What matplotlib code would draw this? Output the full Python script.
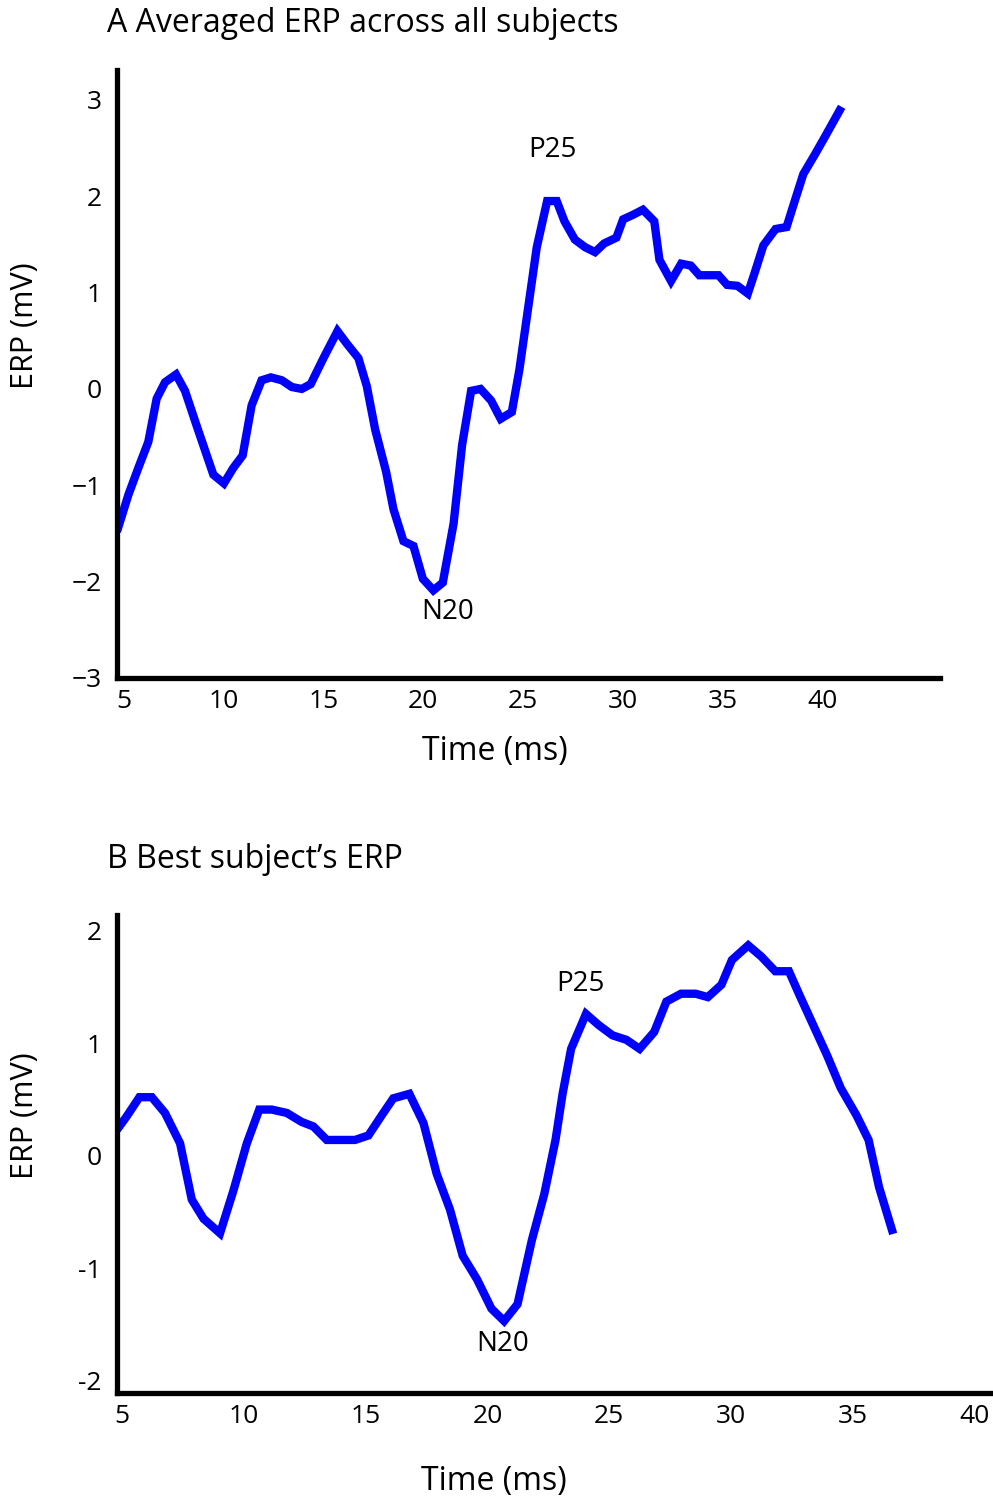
import matplotlib
matplotlib.use("Agg")
import matplotlib.pyplot as plt

# Panel A: averaged ERP across all subjects
time_a = [4.71, 5.22, 5.72, 6.22, 6.64, 7.06, 7.61, 8.06, 8.64, 9.48, 10.01,
          10.48, 10.95, 11.40, 11.90, 12.36, 12.91, 13.41, 13.91, 14.36, 15.00,
          15.70, 16.17, 16.75, 17.17, 17.59, 18.14, 18.51, 19.01, 19.51, 19.98,
          20.51, 20.98, 21.52, 21.95, 22.40, 22.87, 23.40, 23.88, 24.44, 24.82,
          25.34, 25.69, 26.21, 26.69, 27.08, 27.60, 28.12, 28.61, 29.07, 29.68,
          30.02, 30.54, 31.01, 31.58, 31.84, 32.42, 32.93, 33.41, 33.84, 34.80,
          35.23, 35.75, 36.27, 36.62, 37.05, 37.66, 38.21, 38.62, 39.05, 39.65,
          40.17, 40.87]
erp_a = [-1.44, -1.10, -0.82, -0.55, -0.10, 0.07, 0.15, -0.02, -0.38, -0.89, -0.98,
         -0.82, -0.69, -0.17, 0.09, 0.12, 0.09, 0.02, 0.00, 0.05, 0.32,
         0.60, 0.47, 0.32, 0.03, -0.42, -0.86, -1.25, -1.58, -1.63, -1.97,
         -2.09, -2.01, -1.40, -0.58, -0.02, 0.00, -0.12, -0.31, -0.24, 0.20,
         0.96, 1.47, 1.95, 1.95, 1.74, 1.55, 1.47, 1.42, 1.51, 1.57,
         1.76, 1.81, 1.86, 1.74, 1.34, 1.12, 1.30, 1.28, 1.18, 1.18,
         1.08, 1.07, 0.99, 1.21, 1.49, 1.66, 1.68, 1.95, 2.23, 2.44,
         2.63, 2.89]

# Panel B: best subject's ERP
time_b = [4.89, 5.19, 5.71, 6.22, 6.76, 7.38, 7.86, 8.34, 9.02, 9.57, 10.12,
          10.63, 11.14, 11.76, 12.37, 12.85, 13.40, 14.56, 15.11, 15.66, 16.13,
          16.79, 17.37, 17.91, 18.46, 18.98, 19.57, 20.16, 20.68, 21.23, 21.82,
          22.33, 22.79, 23.08, 23.43, 24.04, 24.57, 25.13, 25.70, 26.24, 26.84,
          27.34, 27.94, 28.54, 29.04, 29.60, 30.03, 30.70, 31.24, 31.81, 32.37,
          32.80, 33.37, 33.94, 34.50, 35.14, 35.64, 36.07, 36.60]
erp_b = [0.26, 0.35, 0.52, 0.52, 0.38, 0.11, -0.39, -0.56, -0.69, -0.31, 0.11,
         0.41, 0.41, 0.38, 0.30, 0.26, 0.14, 0.14, 0.18, 0.36, 0.51,
         0.55, 0.29, -0.16, -0.48, -0.89, -1.10, -1.36, -1.47, -1.32, -0.75,
         -0.34, 0.14, 0.55, 0.95, 1.26, 1.16, 1.07, 1.03, 0.95, 1.10,
         1.37, 1.44, 1.44, 1.41, 1.52, 1.74, 1.87, 1.77, 1.64, 1.64,
         1.43, 1.16, 0.89, 0.60, 0.36, 0.14, -0.28, -0.66]

xticks = [5, 10, 15, 20, 25, 30, 35, 40]
yticks_a = [-3, -2, -1, 0, 1, 2, 3]
ylabels_a = ["\u22123", "\u22122", "\u22121", "0", "1", "2", "3"]
yticks_b = [-2, -1, 0, 1, 2]
ylabels_b = ["-2", "-1", "0", "1", "2"]

plt.rcParams['font.family'] = ['Open Sans', 'DejaVu Sans']

fig = plt.figure(figsize=(9.93, 14.99), dpi=100)

ax1 = fig.add_axes([0.1178, 0.5477, 0.8288, 0.4056])
ax2 = fig.add_axes([0.1178, 0.0707, 0.8791, 0.3189])

def style(ax):
	for s in ['top', 'right']:
		ax.spines[s].set_visible(False)
	for s in ['left', 'bottom']:
		ax.spines[s].set_linewidth(3.8)
		ax.spines[s].set_color('black')
	ax.tick_params(length=0, labelsize=19, pad=11)
	ax.tick_params(axis='x', pad=8)

ax1.plot(time_a, erp_a, color='#0000ff', lw=6, solid_joinstyle='miter')
ax1.set_xlim(4.65, 45.9)
ax1.set_ylim(-3, 3.31)
ax1.set_xticks(xticks)
ax1.set_yticks(yticks_a, ylabels_a)
style(ax1)
ax1.text(26.5, 2.48, "P25", fontsize=20, ha='center', va='center')
ax1.text(21.2, -2.31, "N20", fontsize=20, ha='center', va='center')
ax1.set_xlabel("Time (ms)", fontsize=23)
ax1.xaxis.set_label_coords(0.459, -0.094)
ax1.set_ylabel("ERP (mV)", fontsize=22)
ax1.yaxis.set_label_coords(-0.093, 0.58)

ax2.plot(time_b, erp_b, color='#0000ff', lw=6, solid_joinstyle='miter')
ax2.set_xlim(4.79, 40.62)
ax2.set_ylim(-2.11, 2.14)
ax2.set_xticks(xticks)
ax2.set_yticks(yticks_b, ylabels_b)
style(ax2)
ax2.text(23.83, 1.53, "P25", fontsize=20, ha='center', va='center')
ax2.text(20.63, -1.67, "N20", fontsize=20, ha='center', va='center')
ax2.set_xlabel("Time (ms)", fontsize=23)
ax2.xaxis.set_label_coords(0.432, -0.15)
ax2.set_ylabel("ERP (mV)", fontsize=22)
ax2.yaxis.set_label_coords(-0.088, 0.58)

fig.text(107 / 993, 1 - 24 / 1499, "A Averaged ERP across all subjects",
         fontsize=23, ha='left', va='center')
fig.text(107 / 993, 1 - 860 / 1499, "B Best subject\u2019s ERP",
         fontsize=23, ha='left', va='center')

fig.savefig("out.png", dpi=100)
